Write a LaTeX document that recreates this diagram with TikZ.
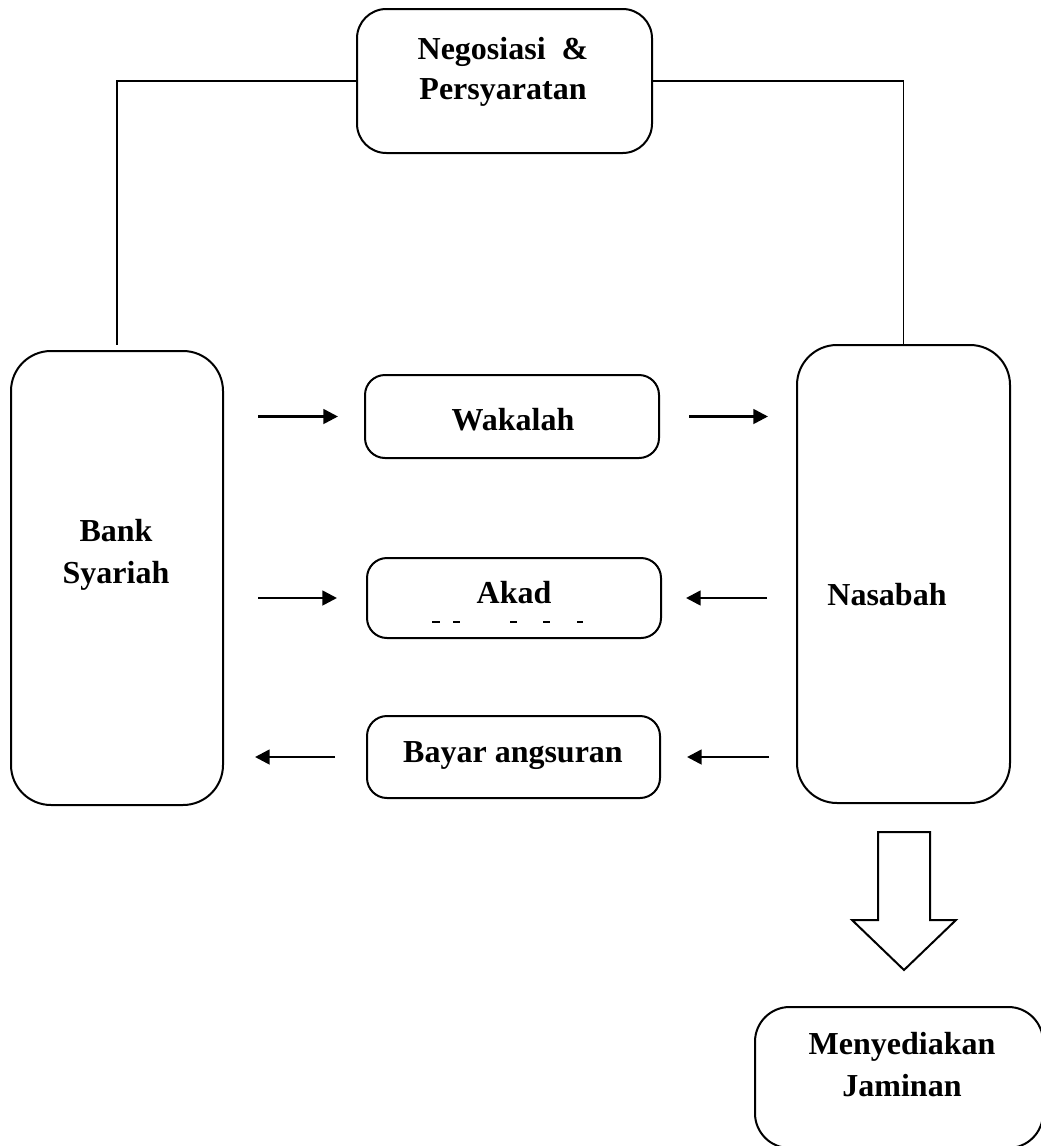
\documentclass[tikz,border=0pt]{standalone}
\usepackage{fontspec}
\setmainfont{Liberation Serif}
\usetikzlibrary{arrows.meta}

\tikzset{every picture/.style={line width=0.75pt}}
\tikzset{
  box/.style={draw, line width=1.5pt, inner sep=0pt},
  txt/.style={inner sep=0pt, align=center, font=\fontsize{24}{#1}\selectfont\bfseries},
  txt/.default=30pt,
  arr/.style={line width=2pt, -{Triangle[length=11pt,width=11pt]}},
  conn/.style={line width=1.2pt}
}

\begin{document}
\begin{tikzpicture}[x=0.75pt,y=0.75pt,yscale=-1,xscale=1]
\useasboundingbox (0,0) rectangle (1040,1146);

%Rounded Rect [negosiasi]
\node[box, rounded corners=22pt, minimum width=221.25pt, minimum height=108pt] (neg) at (504.5,81) {};
%Rounded Rect [bank]
\node[box, rounded corners=30pt, minimum width=159pt, minimum height=340.5pt] (bank) at (117,578) {};
%Rounded Rect [nasabah]
\node[box, rounded corners=30pt, minimum width=159.75pt, minimum height=343.5pt] (nas) at (903.5,574) {};
%Rounded Rect [wakalah]
\node[box, rounded corners=15pt, minimum width=220.5pt, minimum height=62.25pt] (wak) at (512,416.5) {};
%Rounded Rect [akad]
\node[box, rounded corners=15pt, minimum width=220.5pt, minimum height=60pt] (akad) at (514,598) {};
%Rounded Rect [bayar]
\node[box, rounded corners=15pt, minimum width=219.75pt, minimum height=61.5pt] (bayar) at (513.5,757) {};
%Rounded Rect [jaminan]
\node[box, rounded corners=26pt, minimum width=216pt, minimum height=105.75pt] (jam) at (899,1077.5) {};

%Straight Lines
\draw[conn] (neg.west) -| ([yshift=-3.75pt]bank.north);
\draw[conn] (neg.east) -| (nas.north);

%Arrows
\draw[arr] ([xshift=25.5pt]bank.east |- wak.west) -- ([xshift=-19.5pt]wak.west);
\draw[arr] ([xshift=21.75pt]wak.east) -- ([xshift=-21pt]nas.west |- wak.east);
\draw[arr] ([xshift=25.5pt]bank.east |- akad.west) -- ([xshift=-21.75pt]akad.west);
\draw[arr] ([xshift=-21.75pt]nas.west |- akad.east) -- ([xshift=18pt]akad.east);
\draw[arr] ([xshift=-23.25pt]bayar.west) -- ([xshift=23.25pt]bank.east |- bayar.west);
\draw[arr] ([xshift=-20.25pt]nas.west |- bayar.east) -- ([xshift=19.5pt]bayar.east);

%Block Arrow
\draw[line width=1.5pt] (878,832) -- (930,832) -- (930,920) -- (956,920) -- (904,970) -- (852,920) -- (878,920) -- cycle;

%Dashes under Akad
\foreach \a/\b in {432/440,453/460,510/517,543/550,577/583}
  \draw[line width=0.8pt] (\a,622) -- (\b,622);

% Text Node
\node[txt] (negtxt) at (503,72) {Negosiasi\ \ \&\\Persyaratan};
% Text Node
\node[txt=32pt] (banktxt) at (116,555) {Bank\\Syariah};
% Text Node
\node[txt, anchor=base] (nastxt) at (887,605) {Nasabah};
% Text Node
\node[txt, anchor=base] (waktxt) at (513,430) {Wakalah};
% Text Node
\node[txt, anchor=base] (akadtxt) at (514,603) {Akad};
% Text Node
\node[txt, anchor=base] (bayartxt) at (513,762) {Bayar angsuran};
% Text Node
\node[txt=31.5pt] (jamtxt) at (902,1065) {Menyediakan\\Jaminan};

\end{tikzpicture}
\end{document}
